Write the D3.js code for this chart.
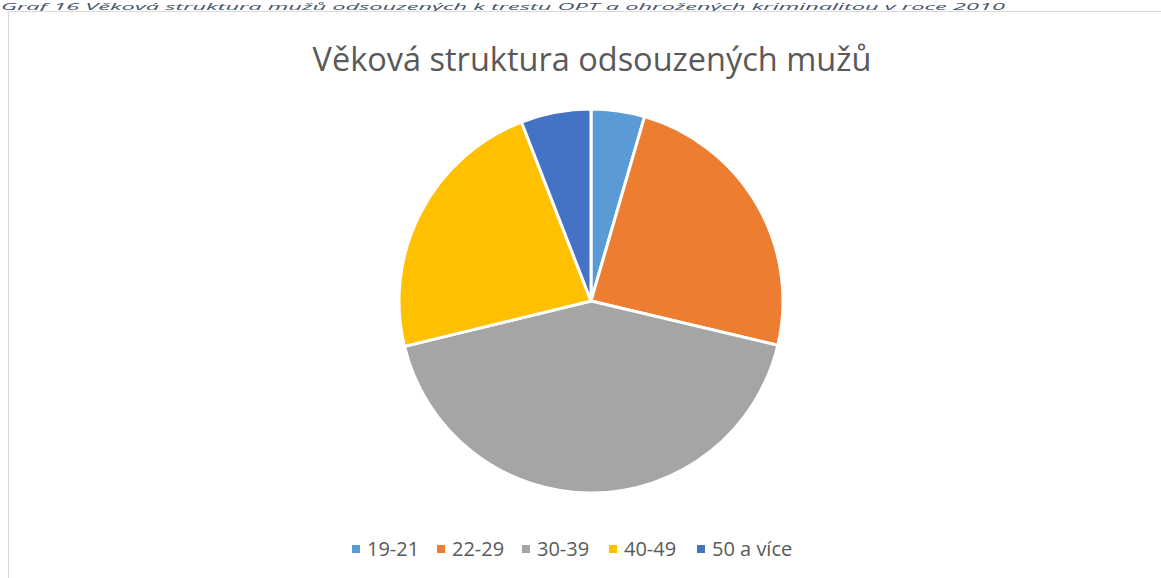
<!DOCTYPE html>
<html>
<head>
<meta charset="utf-8">
<script src="https://cdn.jsdelivr.net/npm/d3@7"></script>
<style>
  body { margin: 0; background: #fff; overflow: hidden; }
  svg { display: block; }
</style>
</head>
<body>
<svg id="chart" width="1161" height="578"></svg>
<script>
// data
const categories = ['19-21', '22-29', '30-39', '40-49', '50 a více']
const values = [4.5, 24.2, 42.5, 22.9, 5.9]
const colors = ['#5b9bd5', '#ed7d31', '#a5a5a5', '#ffc000', '#4472c4']
const title = 'Věková struktura odsouzených mužů'
const caption = 'Graf 16 Věková struktura mužů odsouzených k trestu OPT a ohrožených kriminalitou v roce 2010'

const svg = d3.select('#chart')
const width = +svg.attr('width')
const height = +svg.attr('height')

const data = categories.map((c, i) => ({ label: c, value: values[i] }))

// caption line above the chart (only a sliver shows in the original)
svg.append('text')
  .attr('x', 1)
  .attr('y', 9.5)
  .attr('textLength', 1004)
  .attr('lengthAdjust', 'spacingAndGlyphs')
  .style('font-family', 'Open Sans, sans-serif')
  .style('font-style', 'italic')
  .style('font-size', '8.5px')
  .style('fill', '#44546a')
  .text(caption)

// chart frame
svg.append('rect')
  .attr('x', 8.5)
  .attr('y', 11.5)
  .attr('width', width + 10)
  .attr('height', height)
  .attr('fill', 'none')
  .attr('stroke', '#d9d9d9')

// title
svg.append('text')
  .attr('x', 592)
  .attr('y', 71)
  .attr('text-anchor', 'middle')
  .style('font-family', 'Open Sans, sans-serif')
  .style('font-size', '32.5px')
  .style('fill', '#595959')
  .text(title)

// pie
const cx = 591, cy = 301, radius = 192
const pie = d3.pie().sort(null).value(d => d.value)
const arc = d3.arc().innerRadius(0).outerRadius(radius)
const color = d3.scaleOrdinal().domain(categories).range(colors)

svg.append('g')
  .attr('transform', `translate(${cx},${cy})`)
  .selectAll('path')
  .data(pie(data))
  .join('path')
  .attr('d', arc)
  .attr('fill', d => color(d.data.label))
  .attr('stroke', '#fff')
  .attr('stroke-width', 3)
  .attr('stroke-linejoin', 'round')

// legend
const legendX = [352, 437, 522, 609, 697]
const legend = svg.append('g').attr('transform', 'translate(0,549)')
const items = legend.selectAll('g')
  .data(categories)
  .join('g')
  .attr('transform', (d, i) => `translate(${legendX[i]},0)`)

items.append('rect')
  .attr('x', 0)
  .attr('y', -4)
  .attr('width', 8)
  .attr('height', 8)
  .attr('fill', d => color(d))

items.append('text')
  .attr('x', 15)
  .attr('y', 0)
  .attr('dy', '0.35em')
  .style('font-family', 'Open Sans, sans-serif')
  .style('font-size', '20px')
  .style('fill', '#595959')
  .text(d => d)
</script>
</body>
</html>
